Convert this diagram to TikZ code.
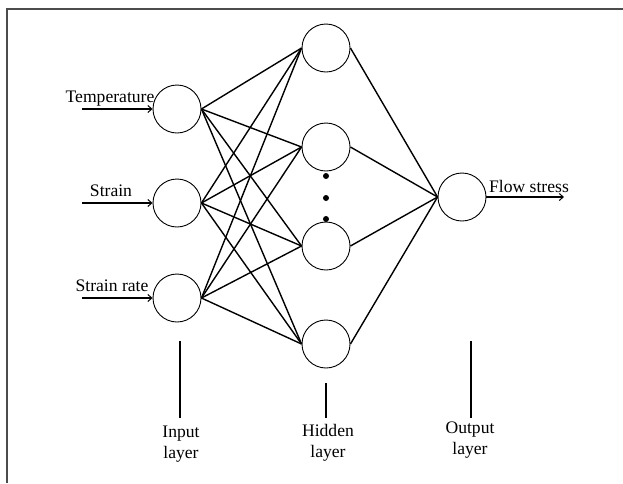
\documentclass[tikz,border=0pt]{standalone}
\usepackage{fontspec}
\setmainfont{Liberation Serif}
\usetikzlibrary{arrows.meta}
\begin{document}
\begin{tikzpicture}[x=1pt,y=-1pt,
  neuron/.style={draw,circle,minimum size=48pt,inner sep=0pt,line width=0.9pt},
  conn/.style={line width=1.4pt},
  inarrow/.style={line width=1.3pt,-{Straight Barb[length=4pt,width=7pt,line width=1pt]}},
  lbl/.style={font=\fontsize{17.6}{21}\selectfont,inner sep=0pt},
  layerlbl/.style={font=\fontsize{17.6}{21}\selectfont,inner sep=0pt,align=center,anchor=north},
  tick/.style={line width=1.5pt},
  dot/.style={fill,circle,minimum size=6pt,inner sep=0pt}]
\useasboundingbox (0,0) rectangle (623,483);
% frame (left and top edges only)
\draw[line width=1.8pt,black!70] (7,483) -- (7,9) -- (623,9);
% input layer
\node[neuron] (i1) at (177,109) {};
\node[neuron] (i2) at (177,203) {};
\node[neuron] (i3) at (177,298) {};
% hidden layer
\node[neuron] (h1) at (326,48) {};
\node[neuron] (h2) at (326,147) {};
\node[neuron] (h3) at (326,246) {};
\node[neuron] (h4) at (326,344) {};
% output
\node[neuron] (o) at (462,197) {};
% dots
\node[dot] (d1) at (326,176) {};
\node[dot] (d2) at (326,198) {};
\node[dot] (d3) at (326,219) {};
% input -> hidden
\foreach \i in {1,2,3}{
  \foreach \h in {1,2,3,4}{
    \draw[conn] (i\i.east) -- (h\h.west);
  }
}
% hidden -> output
\foreach \h in {1,2,3,4}{
  \draw[conn] (h\h.east) -- (o.west);
}
% input arrows and labels
\coordinate (a1) at (82,109);
\coordinate (a2) at (82,203);
\coordinate (a3) at (82,298);
\draw[inarrow] (a1) -- (i1.west);
\draw[inarrow] (a2) -- (i2.west);
\draw[inarrow] (a3) -- (i3.west);
\node[lbl,anchor=base] (t1) at (110,102) {Temperature};
\node[lbl,anchor=base] (t2) at (111,196) {Strain};
\node[lbl,anchor=base] (t3) at (112,291) {Strain rate};
% output arrow
\coordinate (oe) at (564,197);
\draw[inarrow] (o.east) -- (oe);
\node[lbl,anchor=base] (fs) at (529,192) {Flow stress};
% layer labels
\node[layerlbl] (li) at (181,426) {Input\\layer};
\node[layerlbl] (lh) at (328,424) {Hidden\\layer};
\node[layerlbl] (lo) at (470,422) {Output\\layer};
\coordinate (ti) at (180,341);
\coordinate (th) at (326,383);
\coordinate (to) at (471,341);
\draw[tick] (ti) -- (180,418);
\draw[tick] (th) -- (326,418);
\draw[tick] (to) -- (471,418);
\end{tikzpicture}
\end{document}
